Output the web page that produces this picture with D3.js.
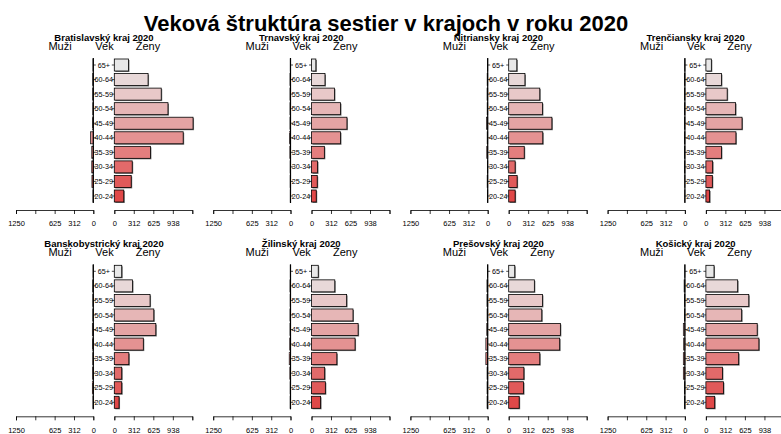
<!DOCTYPE html>
<html lang="sk">
<head>
<meta charset="utf-8">
<title>Veková štruktúra sestier</title>
<script src="https://cdn.jsdelivr.net/npm/d3@7"></script>
<style>
body { margin: 0; background: #fff; }
text { font-family: "Liberation Sans", Arial, sans-serif; }
.axis text { font-size: 7.5px; }
.axis path, .axis line { stroke: #000; stroke-width: 0.8; }
</style>
</head>
<body>
<svg width="781" height="434"></svg>
<script>
// age groups, bottom to top
var ages = ["20-24", "25-29", "30-34", "35-39", "40-44", "45-49", "50-54", "55-59", "60-64", "65+"];

// regions
var regions = ["Bratislavský kraj 2020", "Trnavský kraj 2020", "Nitriansky kraj 2020", "Trenčiansky kraj 2020",
               "Banskobystrický kraj 2020", "Žilinský kraj 2020", "Prešovský kraj 2020", "Košický kraj 2020"];

// women per age group (20-24 ... 65+)
var zeny = [
  [152, 271, 287, 579, 1104, 1262, 860, 752, 541, 227],
  [76, 92, 97, 206, 465, 568, 465, 368, 216, 70],
  [103, 135, 103, 249, 546, 692, 541, 498, 260, 130],
  [60, 103, 108, 249, 481, 579, 476, 341, 249, 87],
  [76, 119, 119, 233, 465, 665, 633, 573, 292, 119],
  [146, 222, 211, 406, 698, 747, 665, 563, 373, 108],
  [168, 238, 243, 498, 817, 828, 530, 541, 411, 97],
  [141, 281, 265, 525, 849, 822, 573, 687, 509, 130]];

// men per age group (20-24 ... 65+)
var muzi = [
  [5, 22, 25, 25, 45, 12, 8, 10, 10, 5],
  [3, 5, 5, 10, 15, 8, 8, 8, 8, 3],
  [5, 8, 5, 15, 8, 20, 8, 10, 8, 3],
  [3, 3, 5, 5, 5, 5, 5, 5, 5, 3],
  [5, 15, 10, 8, 12, 15, 8, 8, 10, 3],
  [5, 5, 10, 20, 12, 8, 8, 5, 8, 3],
  [10, 10, 10, 30, 30, 15, 10, 12, 12, 3],
  [8, 8, 25, 25, 20, 25, 5, 5, 12, 3]];

var ticks = [0, 312, 625, 938, 1250];
var leftLabels = [0, 312, 625, 1250];
var rightLabels = [0, 312, 625, 938];

// bar colours, bottom to top
var colors = ["#e04848", "#e05a5a", "#e26a6a", "#e47e7e", "#e49292",
              "#e4a4a4", "#e6b6b6", "#e8c8c8", "#e8d8d8", "#e8e8e8"];

var svg = d3.select("svg");

// main title
svg.append("text")
    .attr("x", 386)
    .attr("y", 31)
    .attr("text-anchor", "middle")
    .style("font-weight", "bold")
    .style("font-size", "22px")
    .text("Veková štruktúra sestier v krajoch v roku 2020");

var colW = 197.2, rowH = 206.3;

regions.forEach(function(name, i) {
  var ox = (i % 4) * colW, oy = Math.floor(i / 4) * rowH;
  var g = svg.append("g").attr("transform", "translate(" + ox + "," + oy + ")");

  var xl = d3.scaleLinear().domain([1250, 0]).range([16, 93.3]);
  var xr = d3.scaleLinear().domain([0, 1250]).range([114.3, 192.3]);
  var y = d3.scalePoint().domain(ages.slice().reverse()).range([65, 196]);
  var bh = 12;

  // panel title and headers
  g.append("text").attr("x", 104).attr("y", 40.5).attr("text-anchor", "middle")
      .style("font-weight", "bold").style("font-size", "9.5px").text(name);
  g.append("text").attr("x", 60).attr("y", 49.5).attr("text-anchor", "middle")
      .style("font-size", "11px").text("Muži");
  g.append("text").attr("x", 104.5).attr("y", 49.5).attr("text-anchor", "middle")
      .style("font-size", "11px").text("Vek");
  g.append("text").attr("x", 148).attr("y", 49.5).attr("text-anchor", "middle")
      .style("font-size", "11px").text("Ženy");

  // women bars with shadow
  g.selectAll(".zs").data(zeny[i]).enter().append("rect")
      .attr("x", xr(0) + 1)
      .attr("y", function(d, j) { return y(ages[j]) - bh / 2 + 1; })
      .attr("width", function(d) { return xr(d) - xr(0); })
      .attr("height", bh)
      .attr("fill", "#777");
  g.selectAll(".z").data(zeny[i]).enter().append("rect")
      .attr("x", xr(0))
      .attr("y", function(d, j) { return y(ages[j]) - bh / 2; })
      .attr("width", function(d) { return xr(d) - xr(0); })
      .attr("height", bh)
      .attr("fill", function(d, j) { return colors[j]; })
      .attr("stroke", "#000")
      .attr("stroke-width", 0.8);

  // men bars
  g.selectAll(".m").data(muzi[i]).enter().append("rect")
      .attr("x", function(d) { return xl(d); })
      .attr("y", function(d, j) { return y(ages[j]) - bh / 2; })
      .attr("width", function(d) { return xl(0) - xl(d); })
      .attr("height", bh)
      .attr("fill", function(d, j) { return colors[j]; })
      .attr("stroke", "#222")
      .attr("stroke-width", 0.8);

  // central line and ticks
  g.append("line").attr("x1", xl(0)).attr("x2", xl(0))
      .attr("y1", y("65+") - bh / 2 - 1).attr("y2", y("20-24") + bh / 2 + 1)
      .attr("stroke", "#000").attr("stroke-width", 1.2);
  ages.forEach(function(a) {
    g.append("line").attr("x1", xl(0)).attr("x2", xl(0) + 2.5)
        .attr("y1", y(a)).attr("y2", y(a)).attr("stroke", "#000").attr("stroke-width", 0.7);
    g.append("line").attr("x1", xr(0) - 2.5).attr("x2", xr(0))
        .attr("y1", y(a)).attr("y2", y(a)).attr("stroke", "#000").attr("stroke-width", 0.7);
  });

  // age labels
  g.selectAll(".age").data(ages).enter().append("text")
      .attr("x", 103.8)
      .attr("y", function(d) { return y(d) + 2.6; })
      .attr("text-anchor", "middle")
      .style("font-size", "7.2px")
      .text(function(d) { return d; });

  // bottom axes
  var axL = g.append("g").attr("class", "axis")
      .attr("transform", "translate(0,210)")
      .call(d3.axisBottom(xl).tickValues(ticks).tickSizeOuter(0).tickSize(4).tickPadding(7)
        .tickFormat(function(d) { return leftLabels.indexOf(d) >= 0 ? d : ""; }));
  var axR = g.append("g").attr("class", "axis")
      .attr("transform", "translate(0,210)")
      .call(d3.axisBottom(xr).tickValues(ticks).tickSizeOuter(0).tickSize(4).tickPadding(7)
        .tickFormat(function(d) { return rightLabels.indexOf(d) >= 0 ? d : ""; }));
  g.selectAll(".axis text").attr("font-family", null);
});
</script>
</body>
</html>
